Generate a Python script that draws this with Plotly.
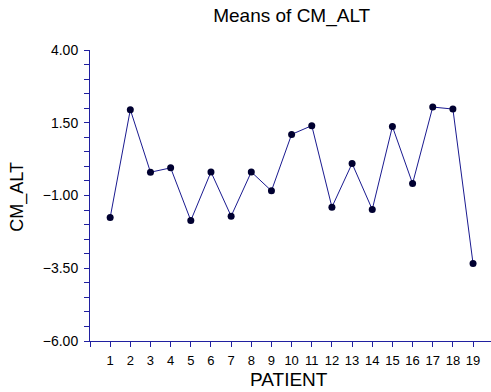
import plotly.graph_objects as go

patients = list(range(1, 20))
means = [-1.76, 1.95, -0.20, -0.05, -1.86, -0.19, -1.71, -0.19, -0.84, 1.10,
         1.40, -1.40, 0.10, -1.48, 1.37, -0.59, 2.04, 1.97, -3.34]
x_tickvals = list(range(0, 20))
x_ticktext = [""] + [str(p) for p in patients]
y_tickvals = [-6.0, -3.5, -1.0, 1.5, 4.0]

axis_col = "#2020a0"
font_fam = "Liberation Sans, Arial, sans-serif"

fig = go.Figure()
fig.add_trace(go.Scatter(
    x=patients, y=means, mode="lines+markers",
    line=dict(color="#1a1a90", width=1),
    marker=dict(color="#000030", size=7),
    cliponaxis=False, showlegend=False,
))

fig.update_layout(
    width=491, height=392,
    margin=dict(l=90, r=0, t=50, b=51),
    paper_bgcolor="white", plot_bgcolor="white",
    font=dict(family=font_fam, size=13, color="black"),
    title=dict(text="Means of CM_ALT", xref="paper", x=0.503, xanchor="center",
               y=0.962, yanchor="middle",
               font=dict(size=19, family=font_fam, color="black")),
    xaxis=dict(
        range=[0, 19.89], tickvals=x_tickvals, ticktext=x_ticktext,
        showgrid=False, zeroline=False, showline=True, linecolor=axis_col, linewidth=1,
        ticks="outside", ticklen=5, tickcolor=axis_col, tickwidth=1,
        tickfont=dict(size=13), ticklabelstandoff=2,
    ),
    yaxis=dict(
        range=[-6, 4], tickvals=y_tickvals, tickformat=".2f",
        showgrid=False, zeroline=False, showline=True, linecolor=axis_col, linewidth=1,
        ticks="outside", ticklen=5, tickcolor=axis_col, tickwidth=1,
        tickfont=dict(size=14), ticklabelstandoff=3,
        minor=dict(dtick=0.5, tick0=-6, ticks="outside", ticklen=5, tickcolor=axis_col, tickwidth=1, showgrid=False),
    ),
    annotations=[
        dict(text="PATIENT", xref="paper", yref="paper", x=0.497, y=-0.1306,
             xanchor="center", yanchor="middle", showarrow=False,
             font=dict(size=19, family=font_fam, color="black")),
        dict(text="CM_ALT", xref="paper", yref="paper", x=-0.1796, y=0.496,
             xanchor="center", yanchor="middle", textangle=-90, showarrow=False,
             font=dict(size=18, family=font_fam, color="black")),
    ],
)

fig.write_html("out.html")
